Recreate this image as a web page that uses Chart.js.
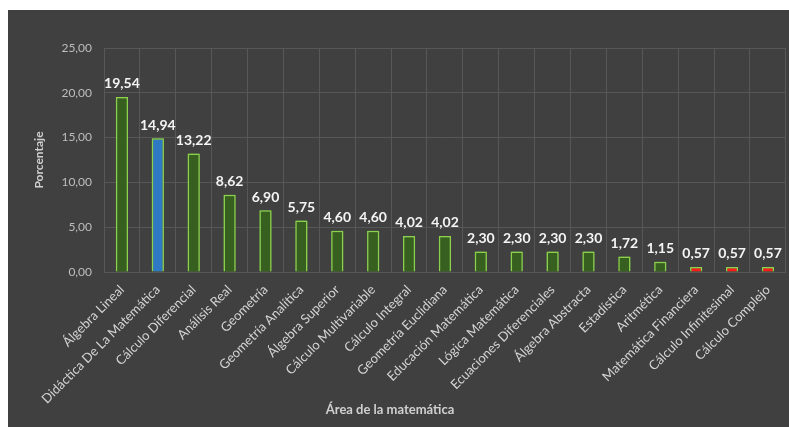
<!DOCTYPE html>
<html>
<head>
<meta charset="utf-8">
<script src="https://cdn.jsdelivr.net/npm/chart.js@4"></script>
<style>
  html, body { margin: 0; padding: 0; background: #fff; }
  #wrap { position: absolute; left: 8px; top: 10px; width: 781px; height: 417px; background: #404040; }
</style>
</head>
<body>
<div id="wrap"><canvas id="barChart" width="781" height="417"></canvas></div>
<script>
const categories = [
  'Álgebra Lineal', 'Didáctica De La Matemática', 'Cálculo Diferencial', 'Análisis Real',
  'Geometría', 'Geometría Analítica', 'Álgebra Superior', 'Cálculo Multivariable',
  'Cálculo Integral', 'Geometría Euclidiana', 'Educación Matemática', 'Lógica Matemática',
  'Ecuaciones Diferenciales', 'Álgebra Abstracta', 'Estadística', 'Aritmética',
  'Matemática Financiera', 'Cálculo Infinitesimal', 'Cálculo Complejo'
];
const percentages = [19.54, 14.94, 13.22, 8.62, 6.90, 5.75, 4.60, 4.60, 4.02, 4.02,
  2.30, 2.30, 2.30, 2.30, 1.72, 1.15, 0.57, 0.57, 0.57];
const yTicks = [0, 5, 10, 15, 20, 25];

const fmt = v => v.toFixed(2).replace('.', ',');

// fill: blue for the highlighted bar, red for the smallest ones, green otherwise
const fills = percentages.map((v, i) => i === 1 ? '#2f78c4' : (v < 1 ? '#ff1a1a' : '#375f1f'));

const valueLabels = {
  id: 'valueLabels',
  afterDatasetsDraw(chart) {
    const ctx = chart.ctx;
    const meta = chart.getDatasetMeta(0);
    ctx.save();
    ctx.fillStyle = '#f4f4f4';
    ctx.font = 'bold 14px Lato';
    ctx.textAlign = 'center';
    ctx.textBaseline = 'bottom';
    meta.data.forEach((bar, i) => {
      ctx.fillText(fmt(percentages[i]), bar.x, bar.y - 6);
    });
    ctx.restore();
  }
};

const glow = {
  id: 'glow',
  beforeDatasetsDraw(chart) {
    const ctx = chart.ctx;
    ctx.save();
    ctx.shadowColor = 'rgba(130, 210, 70, 0.7)';
    ctx.shadowBlur = 4;
  },
  afterDatasetsDraw(chart) {
    chart.ctx.restore();
  }
};

const xTitle = {
  id: 'xTitle',
  afterDraw(chart) {
    const ctx = chart.ctx;
    ctx.save();
    ctx.fillStyle = '#d0d0d0';
    ctx.font = 'bold 13px Lato';
    ctx.textAlign = 'center';
    ctx.textBaseline = 'middle';
    ctx.fillText('Área de la matemática', 382, 400);
    ctx.restore();
  }
};

new Chart(document.getElementById('barChart'), {
  type: 'bar',
  plugins: [glow, valueLabels, xTitle],
  data: {
    labels: categories,
    datasets: [{
      label: 'Porcentaje',
      data: percentages,
      backgroundColor: fills,
      borderColor: '#8fd14f',
      borderWidth: 1.5,
      barPercentage: 0.34,
      categoryPercentage: 1
    }]
  },
  options: {
    responsive: false,
    animation: false,
    layout: { padding: { left: 20, top: 38, right: 1, bottom: 0 } },
    plugins: {
      legend: { display: false },
      tooltip: { enabled: false }
    },
    scales: {
      x: {
        grid: { color: '#575757', drawTicks: false },
        border: { color: '#575757' },
        ticks: {
          color: '#d4d4d4',
          font: { family: 'Lato', size: 13 },
          minRotation: 45,
          maxRotation: 45,
          padding: 10,
          autoSkip: false
        },
        afterFit(scale) { scale.height = 155; }
      },
      y: {
        min: 0,
        max: 25,
        afterBuildTicks(scale) { scale.ticks = yTicks.map(v => ({ value: v })); },
        grid: { color: '#575757', drawTicks: false },
        border: { display: false },
        ticks: {
          color: '#bdbdbd',
          font: { family: 'Lato', size: 12 },
          padding: 12,
          callback: v => fmt(v)
        },
        title: {
          display: true,
          text: 'Porcentaje',
          color: '#d0d0d0',
          font: { family: 'Lato', size: 12, weight: 'bold' },
          padding: 4
        },
        afterFit(scale) { scale.width = 76; }
      }
    }
  }
});
</script>
</body>
</html>
